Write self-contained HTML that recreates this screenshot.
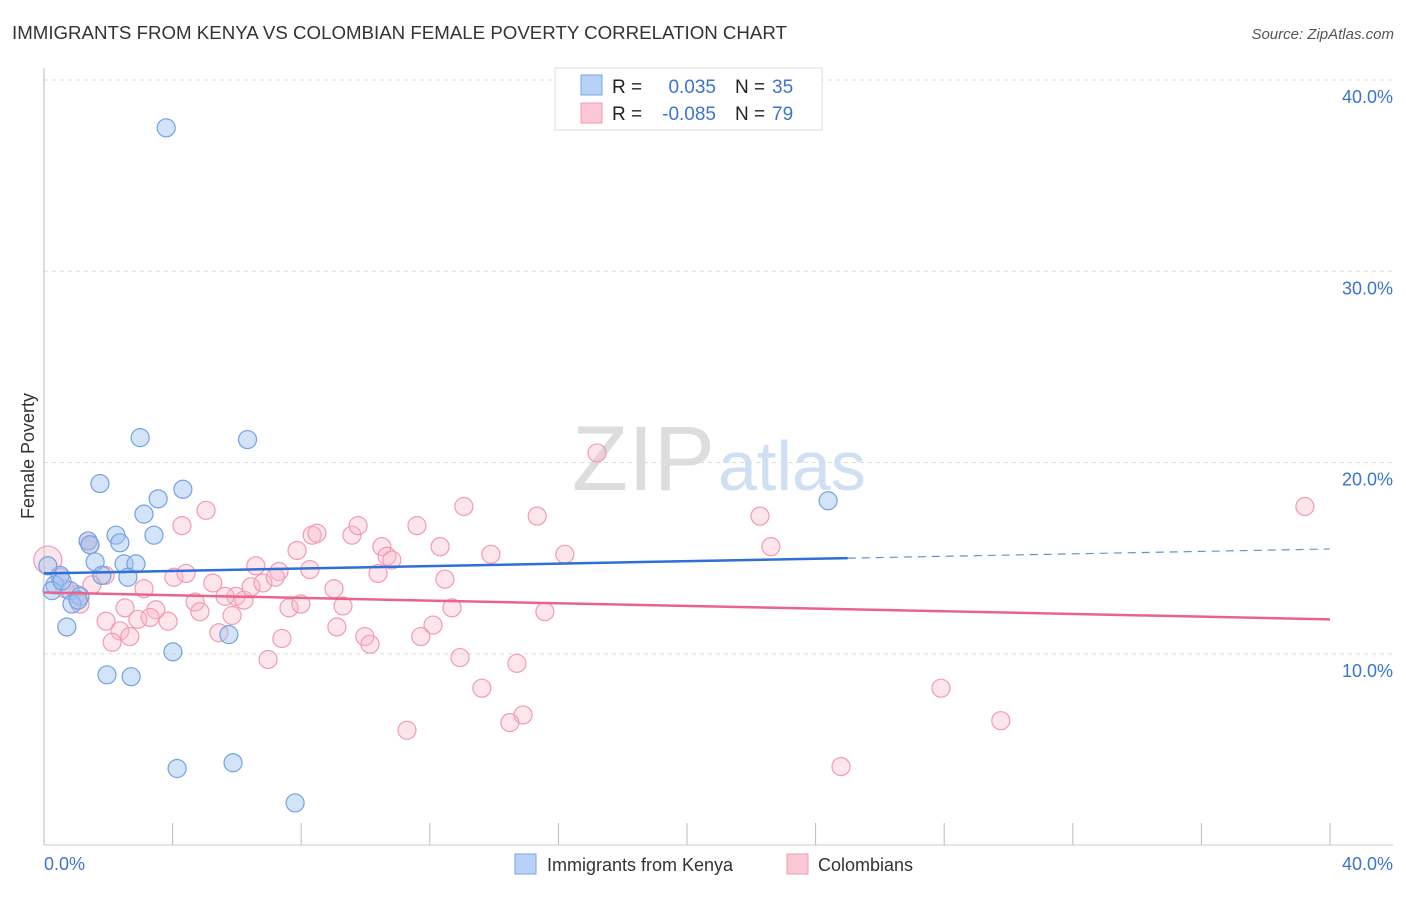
<!DOCTYPE html>
<html><head><meta charset="utf-8"><style>
body{margin:0;background:#fff;font-family:"Liberation Sans",sans-serif;}
svg text{font-family:"Liberation Sans",sans-serif;}
</style></head><body>
<svg width="1406" height="892" viewBox="0 0 1406 892">
<text x="12" y="39" font-size="18.7" fill="#333">IMMIGRANTS FROM KENYA VS COLOMBIAN FEMALE POVERTY CORRELATION CHART</text>
<text x="1394" y="39" font-size="15" fill="#555" text-anchor="end" font-style="italic">Source: ZipAtlas.com</text>
<g id="grid"></g>
<text x="715" y="490" font-size="92" fill="#ddd" text-anchor="end" font-family="Liberation Serif">ZIP</text>
<text x="718" y="490" font-size="70" fill="#cfe0f4">atlas</text>
<text transform="translate(34,456) rotate(-90)" font-size="18" fill="#333" text-anchor="middle">Female Poverty</text>
<g id="pts"></g>
<g id="lines"></g>
<text x="44" y="870" font-size="18" fill="#3a74d0">0.0%</text>
<text x="1393" y="870" font-size="18" fill="#3a74d0" text-anchor="end">40.0%</text>
<g>
<rect x="555" y="68" width="267" height="62" fill="#fff" stroke="#ddd"/>
<rect x="581" y="75" width="21" height="20" fill="#b8d2f5" stroke="#7aa6e6"/>
<rect x="581" y="103" width="21" height="20" fill="#fbc8d6" stroke="#f09ab5"/>
<text x="612" y="93" font-size="19" fill="#222">R =</text><text x="716" y="93" font-size="19" fill="#3a74d0" text-anchor="end">0.035</text>
<text x="735" y="93" font-size="19" fill="#222">N =</text><text x="772" y="93" font-size="19" fill="#3a74d0">35</text>
<text x="612" y="120" font-size="19" fill="#222">R =</text><text x="716" y="120" font-size="19" fill="#3a74d0" text-anchor="end">-0.085</text>
<text x="735" y="120" font-size="19" fill="#222">N =</text><text x="772" y="120" font-size="19" fill="#3a74d0">79</text>
</g>
<g>
<rect x="515" y="854" width="21" height="20" fill="#b8d2f5" stroke="#7aa6e6"/>
<text x="547" y="871" font-size="18" fill="#333">Immigrants from Kenya</text>
<rect x="787" y="854" width="21" height="20" fill="#fbc8d6" stroke="#f09ab5"/>
<text x="818" y="871" font-size="18" fill="#333">Colombians</text>
</g>
</svg>
<script>
const yTicks=[10,20,30,40];
const yTickLabels=["10.0%","20.0%","30.0%","40.0%"];
const xTicks=[0,4,8,12,16,20,24,28,32,36,40];
const kenyaX=[3.8,2.99,6.33,1.74,4.32,3.55,3.11,24.39,2.24,3.42,2.36,1.37,1.59,2.49,2.86,0.5,0.34,1.8,2.61,0.81,1.12,0.87,0.71,5.75,4.01,1.96,2.71,4.14,5.88,7.81,0.12,0.25,0.56,1.43,1.06];
const kenyaY=[37.5,21.3,21.2,18.9,18.6,18.1,17.3,18.0,16.2,16.2,15.8,15.9,14.8,14.7,14.7,14.1,13.6,14.1,14.0,13.3,13.0,12.6,11.4,11.0,10.1,8.9,8.8,4.0,4.3,2.2,14.6,13.3,13.8,15.7,12.8];
const colX=[0.12,1.37,1.43,1.9,1.49,1.12,1.03,0.5,0.65,4.29,5.04,3.11,4.04,4.42,5.25,4.7,4.85,2.52,3.48,1.93,2.92,3.3,3.86,2.36,2.67,2.12,5.44,5.85,5.97,6.22,6.44,6.81,7.31,6.59,6.97,7.4,7.62,7.99,7.87,8.34,8.49,8.27,9.02,9.3,9.11,9.58,9.77,10.39,10.51,10.67,10.82,9.98,10.14,11.6,12.32,12.47,12.69,12.1,11.72,13.06,13.9,12.94,13.62,14.71,14.9,14.49,11.29,17.2,15.34,16.2,15.58,22.27,22.61,27.9,29.76,24.79,39.22,5.63,7.19];
const colY=[14.9,15.9,15.7,14.1,13.6,12.6,13.1,14.0,13.4,16.7,17.5,13.4,14.0,14.2,13.7,12.7,12.2,12.4,12.3,11.7,11.8,11.9,11.7,11.2,10.9,10.6,11.1,12.0,13.0,12.8,13.5,13.7,14.3,14.6,9.7,10.8,12.4,12.6,15.4,16.2,16.3,14.4,13.4,12.5,11.4,16.2,16.7,14.2,15.6,15.1,14.9,10.9,10.5,16.7,15.6,13.9,12.4,11.5,10.9,17.7,15.2,9.8,8.2,9.5,6.8,6.4,6.0,20.5,17.2,15.2,12.2,17.2,15.6,8.2,6.5,4.1,17.7,13.0,14.0];
const kenyaTrend=[14.2,0.032];
const colTrend=[13.2,-0.035];
const NS='http://www.w3.org/2000/svg';
const X0=44,X1=1330,Y0=845,Y40=80;
const sx=v=>X0+v*(X1-X0)/40, sy=v=>Y0-v*(Y0-Y40)/40;
function mk(t,a,p){const e=document.createElementNS(NS,t);for(const k in a)e.setAttribute(k,a[k]);p.appendChild(e);return e;}
const g=document.getElementById('grid');
yTicks.forEach((t,i)=>{
 const l=mk('line',{x1:X0,x2:1393,y1:sy(t),y2:sy(t),stroke:'#ddd','stroke-dasharray':'4,4'},g);
 
 
 const tx=mk('text',{x:1393,y:sy(t)+23,'font-size':18,fill:'#3a74d0','text-anchor':'end'},g);
 tx.textContent=yTickLabels[i];
 
 
});
const ax=mk('line',{x1:X0,x2:X0,y1:68,y2:Y0,stroke:'#bbb'},g);


const bx=mk('line',{x1:X0,x2:1393,y1:Y0,y2:Y0,stroke:'#ccc'},g);


xTicks.forEach(t=>{
 const l=mk('line',{x1:sx(t),x2:sx(t),y1:823,y2:Y0,stroke:'#bbb'},g);
 
 
});
const p=document.getElementById('pts');
colX.forEach((x,i)=>{
 const c=mk('circle',{cx:sx(x),cy:sy(colY[i]),r:i==0?14:9,fill:'rgba(248,180,200,0.35)',stroke:'#f29ab4','stroke-width':1.2},p);
 
 
});
kenyaX.forEach((x,i)=>{
 const c=mk('circle',{cx:sx(x),cy:sy(kenyaY[i]),r:9,fill:'rgba(160,196,240,0.45)',stroke:'#72a2e2','stroke-width':1.2},p);
 
 
});
const L=document.getElementById('lines');
const f=(t,x)=>t[0]+t[1]*x;
let a=mk('line',{x1:sx(0),y1:sy(f(kenyaTrend,0)),x2:sx(25),y2:sy(f(kenyaTrend,25)),stroke:'#2f6fd6','stroke-width':2.5},L);


a=mk('line',{x1:sx(25),y1:sy(f(kenyaTrend,25)),x2:sx(40),y2:sy(f(kenyaTrend,40)),stroke:'#6a90c8','stroke-width':1.2,'stroke-dasharray':'8,6'},L);


a=mk('line',{x1:sx(0),y1:sy(f(colTrend,0)),x2:sx(40),y2:sy(f(colTrend,40)),stroke:'#e8648e','stroke-width':2.5},L);


</script>
</body></html>
